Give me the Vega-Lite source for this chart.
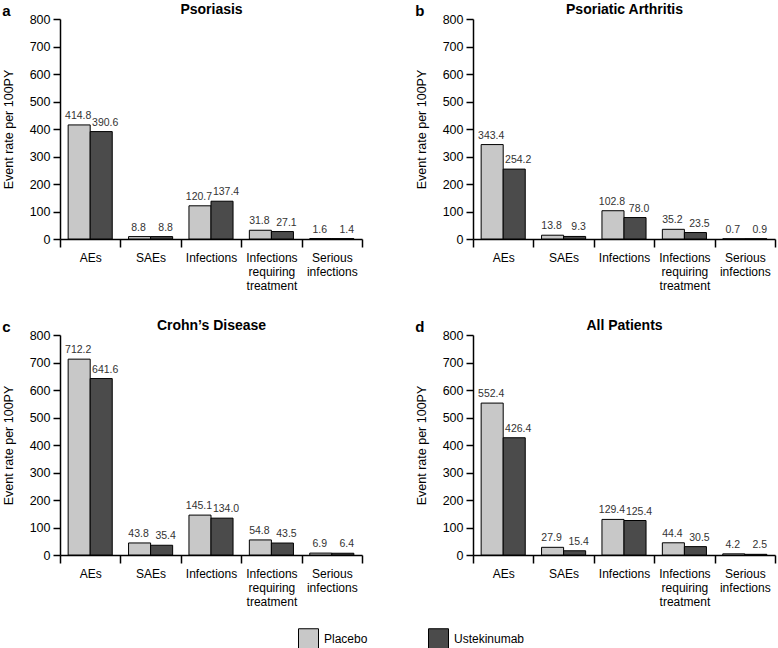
{
  "$schema": "https://vega.github.io/schema/vega-lite/v6.json",
  "padding": {"left": 2, "top": 2, "right": 2, "bottom": 0},
  "config": {
    "font": "Liberation Sans",
    "view": {"stroke": null},
    "axis": {"domainColor": "black", "tickColor": "black", "labelColor": "black", "titleColor": "black", "domainWidth": 1.5, "tickWidth": 1.5, "grid": false},
    "legend": {"symbolType": "square", "symbolSize": 400, "symbolStrokeColor": "black", "symbolStrokeWidth": 1, "labelFontSize": 12, "labelColor": "black", "columnPadding": 58, "labelOffset": 5, "title": null}
  },
  "data": {"values": [
    {"panel": "a", "cat": "AEs", "trt": "Placebo", "v": 414.8},
    {"panel": "a", "cat": "AEs", "trt": "Ustekinumab", "v": 390.6},
    {"panel": "a", "cat": "SAEs", "trt": "Placebo", "v": 8.8},
    {"panel": "a", "cat": "SAEs", "trt": "Ustekinumab", "v": 8.8},
    {"panel": "a", "cat": "Infections", "trt": "Placebo", "v": 120.7},
    {"panel": "a", "cat": "Infections", "trt": "Ustekinumab", "v": 137.4},
    {"panel": "a", "cat": "Infections requiring treatment", "trt": "Placebo", "v": 31.8},
    {"panel": "a", "cat": "Infections requiring treatment", "trt": "Ustekinumab", "v": 27.1},
    {"panel": "a", "cat": "Serious infections", "trt": "Placebo", "v": 1.6},
    {"panel": "a", "cat": "Serious infections", "trt": "Ustekinumab", "v": 1.4},
    {"panel": "b", "cat": "AEs", "trt": "Placebo", "v": 343.4},
    {"panel": "b", "cat": "AEs", "trt": "Ustekinumab", "v": 254.2},
    {"panel": "b", "cat": "SAEs", "trt": "Placebo", "v": 13.8},
    {"panel": "b", "cat": "SAEs", "trt": "Ustekinumab", "v": 9.3},
    {"panel": "b", "cat": "Infections", "trt": "Placebo", "v": 102.8},
    {"panel": "b", "cat": "Infections", "trt": "Ustekinumab", "v": 78.0},
    {"panel": "b", "cat": "Infections requiring treatment", "trt": "Placebo", "v": 35.2},
    {"panel": "b", "cat": "Infections requiring treatment", "trt": "Ustekinumab", "v": 23.5},
    {"panel": "b", "cat": "Serious infections", "trt": "Placebo", "v": 0.7},
    {"panel": "b", "cat": "Serious infections", "trt": "Ustekinumab", "v": 0.9},
    {"panel": "c", "cat": "AEs", "trt": "Placebo", "v": 712.2},
    {"panel": "c", "cat": "AEs", "trt": "Ustekinumab", "v": 641.6},
    {"panel": "c", "cat": "SAEs", "trt": "Placebo", "v": 43.8},
    {"panel": "c", "cat": "SAEs", "trt": "Ustekinumab", "v": 35.4},
    {"panel": "c", "cat": "Infections", "trt": "Placebo", "v": 145.1},
    {"panel": "c", "cat": "Infections", "trt": "Ustekinumab", "v": 134.0},
    {"panel": "c", "cat": "Infections requiring treatment", "trt": "Placebo", "v": 54.8},
    {"panel": "c", "cat": "Infections requiring treatment", "trt": "Ustekinumab", "v": 43.5},
    {"panel": "c", "cat": "Serious infections", "trt": "Placebo", "v": 6.9},
    {"panel": "c", "cat": "Serious infections", "trt": "Ustekinumab", "v": 6.4},
    {"panel": "d", "cat": "AEs", "trt": "Placebo", "v": 552.4},
    {"panel": "d", "cat": "AEs", "trt": "Ustekinumab", "v": 426.4},
    {"panel": "d", "cat": "SAEs", "trt": "Placebo", "v": 27.9},
    {"panel": "d", "cat": "SAEs", "trt": "Ustekinumab", "v": 15.4},
    {"panel": "d", "cat": "Infections", "trt": "Placebo", "v": 129.4},
    {"panel": "d", "cat": "Infections", "trt": "Ustekinumab", "v": 125.4},
    {"panel": "d", "cat": "Infections requiring treatment", "trt": "Placebo", "v": 44.4},
    {"panel": "d", "cat": "Infections requiring treatment", "trt": "Ustekinumab", "v": 30.5},
    {"panel": "d", "cat": "Serious infections", "trt": "Placebo", "v": 4.2},
    {"panel": "d", "cat": "Serious infections", "trt": "Ustekinumab", "v": 2.5}
  ]},
  "columns": 2,
  "spacing": {"column": 52, "row": 27},
  "concat": [
    {
      "title": {"text": "a", "anchor": "start", "frame": "bounds", "fontSize": 15, "fontWeight": "bold", "offset": -17},
      "width": 302, "height": 220,
      "transform": [{"filter": "datum.panel == 'a'"}],
      "encoding": {
        "xOffset": {"field": "trt", "type": "nominal", "sort": ["Placebo", "Ustekinumab"], "scale": {"paddingOuter": 0.37, "paddingInner": 0}},
        "y": {"field": "v", "type": "quantitative", "scale": {"domain": [0, 800], "nice": false}, "axis": {"title": "Event rate per 100PY", "titleFontSize": 12.5, "titleFontWeight": "normal", "titlePadding": 14, "values": [0, 100, 200, 300, 400, 500, 600, 700, 800], "labelOverlap": false, "labelFontSize": 12.5, "tickSize": 7, "labelPadding": 3}}
      },
      "layer": [
        {"mark": {"type": "bar", "stroke": "black", "strokeWidth": 1},
         "encoding": {
           "x": {"field": "cat", "type": "nominal", "sort": ["AEs", "SAEs", "Infections", "Infections requiring treatment", "Serious infections"], "scale": {"paddingInner": 0, "paddingOuter": 0}, "axis": {"title": null, "labelAngle": 0, "labelExpr": "split(datum.label, ' ')", "labelFontSize": 12, "labelLineHeight": 14, "tickBand": "extent", "tickSize": 8, "labelPadding": 5}},
           "color": {"field": "trt", "type": "nominal", "scale": {"domain": ["Placebo", "Ustekinumab"], "range": ["#c8c8c8", "#4b4b4b"]}, "legend": {"orient": "none", "direction": "horizontal", "legendX": 238, "legendY": 609}}
         }},
        {"mark": {"type": "text", "fontSize": 10.5, "color": "#333", "baseline": "bottom", "dy": -4, "dx": {"expr": "datum.trt === 'Ustekinumab' ? 4 : -1"}},
         "encoding": {
           "x": {"field": "cat", "type": "nominal", "sort": ["AEs", "SAEs", "Infections", "Infections requiring treatment", "Serious infections"], "axis": {"orient": "top", "title": "Psoriasis", "labels": false, "ticks": false, "domain": false, "titleFontSize": 14, "titleFontWeight": "bold", "titlePadding": 3}},
           "text": {"field": "v", "type": "quantitative", "format": ".1f"}
         }}
      ],
      "resolve": {"axis": {"x": "independent"}}
    },
    {
      "title": {"text": "b", "anchor": "start", "frame": "bounds", "fontSize": 15, "fontWeight": "bold", "offset": -17},
      "width": 302, "height": 220,
      "transform": [{"filter": "datum.panel == 'b'"}],
      "encoding": {
        "xOffset": {"field": "trt", "type": "nominal", "sort": ["Placebo", "Ustekinumab"], "scale": {"paddingOuter": 0.37, "paddingInner": 0}},
        "y": {"field": "v", "type": "quantitative", "scale": {"domain": [0, 800], "nice": false}, "axis": {"title": "Event rate per 100PY", "titleFontSize": 12.5, "titleFontWeight": "normal", "titlePadding": 14, "values": [0, 100, 200, 300, 400, 500, 600, 700, 800], "labelOverlap": false, "labelFontSize": 12.5, "tickSize": 7, "labelPadding": 3}}
      },
      "layer": [
        {"mark": {"type": "bar", "stroke": "black", "strokeWidth": 1},
         "encoding": {
           "x": {"field": "cat", "type": "nominal", "sort": ["AEs", "SAEs", "Infections", "Infections requiring treatment", "Serious infections"], "scale": {"paddingInner": 0, "paddingOuter": 0}, "axis": {"title": null, "labelAngle": 0, "labelExpr": "split(datum.label, ' ')", "labelFontSize": 12, "labelLineHeight": 14, "tickBand": "extent", "tickSize": 8, "labelPadding": 5}},
           "color": {"field": "trt", "type": "nominal", "scale": {"domain": ["Placebo", "Ustekinumab"], "range": ["#c8c8c8", "#4b4b4b"]}, "legend": {"orient": "none", "direction": "horizontal", "legendX": 238, "legendY": 609}}
         }},
        {"mark": {"type": "text", "fontSize": 10.5, "color": "#333", "baseline": "bottom", "dy": -4, "dx": {"expr": "datum.trt === 'Ustekinumab' ? 4 : -1"}},
         "encoding": {
           "x": {"field": "cat", "type": "nominal", "sort": ["AEs", "SAEs", "Infections", "Infections requiring treatment", "Serious infections"], "axis": {"orient": "top", "title": "Psoriatic Arthritis", "labels": false, "ticks": false, "domain": false, "titleFontSize": 14, "titleFontWeight": "bold", "titlePadding": 3}},
           "text": {"field": "v", "type": "quantitative", "format": ".1f"}
         }}
      ],
      "resolve": {"axis": {"x": "independent"}}
    },
    {
      "title": {"text": "c", "anchor": "start", "frame": "bounds", "fontSize": 15, "fontWeight": "bold", "offset": -17},
      "width": 302, "height": 220,
      "transform": [{"filter": "datum.panel == 'c'"}],
      "encoding": {
        "xOffset": {"field": "trt", "type": "nominal", "sort": ["Placebo", "Ustekinumab"], "scale": {"paddingOuter": 0.37, "paddingInner": 0}},
        "y": {"field": "v", "type": "quantitative", "scale": {"domain": [0, 800], "nice": false}, "axis": {"title": "Event rate per 100PY", "titleFontSize": 12.5, "titleFontWeight": "normal", "titlePadding": 14, "values": [0, 100, 200, 300, 400, 500, 600, 700, 800], "labelOverlap": false, "labelFontSize": 12.5, "tickSize": 7, "labelPadding": 3}}
      },
      "layer": [
        {"mark": {"type": "bar", "stroke": "black", "strokeWidth": 1},
         "encoding": {
           "x": {"field": "cat", "type": "nominal", "sort": ["AEs", "SAEs", "Infections", "Infections requiring treatment", "Serious infections"], "scale": {"paddingInner": 0, "paddingOuter": 0}, "axis": {"title": null, "labelAngle": 0, "labelExpr": "split(datum.label, ' ')", "labelFontSize": 12, "labelLineHeight": 14, "tickBand": "extent", "tickSize": 8, "labelPadding": 5}},
           "color": {"field": "trt", "type": "nominal", "scale": {"domain": ["Placebo", "Ustekinumab"], "range": ["#c8c8c8", "#4b4b4b"]}, "legend": {"orient": "none", "direction": "horizontal", "legendX": 238, "legendY": 609}}
         }},
        {"mark": {"type": "text", "fontSize": 10.5, "color": "#333", "baseline": "bottom", "dy": -4, "dx": {"expr": "datum.trt === 'Ustekinumab' ? 4 : -1"}},
         "encoding": {
           "x": {"field": "cat", "type": "nominal", "sort": ["AEs", "SAEs", "Infections", "Infections requiring treatment", "Serious infections"], "axis": {"orient": "top", "title": "Crohn’s Disease", "labels": false, "ticks": false, "domain": false, "titleFontSize": 14, "titleFontWeight": "bold", "titlePadding": 3}},
           "text": {"field": "v", "type": "quantitative", "format": ".1f"}
         }}
      ],
      "resolve": {"axis": {"x": "independent"}}
    },
    {
      "title": {"text": "d", "anchor": "start", "frame": "bounds", "fontSize": 15, "fontWeight": "bold", "offset": -17},
      "width": 302, "height": 220,
      "transform": [{"filter": "datum.panel == 'd'"}],
      "encoding": {
        "xOffset": {"field": "trt", "type": "nominal", "sort": ["Placebo", "Ustekinumab"], "scale": {"paddingOuter": 0.37, "paddingInner": 0}},
        "y": {"field": "v", "type": "quantitative", "scale": {"domain": [0, 800], "nice": false}, "axis": {"title": "Event rate per 100PY", "titleFontSize": 12.5, "titleFontWeight": "normal", "titlePadding": 14, "values": [0, 100, 200, 300, 400, 500, 600, 700, 800], "labelOverlap": false, "labelFontSize": 12.5, "tickSize": 7, "labelPadding": 3}}
      },
      "layer": [
        {"mark": {"type": "bar", "stroke": "black", "strokeWidth": 1},
         "encoding": {
           "x": {"field": "cat", "type": "nominal", "sort": ["AEs", "SAEs", "Infections", "Infections requiring treatment", "Serious infections"], "scale": {"paddingInner": 0, "paddingOuter": 0}, "axis": {"title": null, "labelAngle": 0, "labelExpr": "split(datum.label, ' ')", "labelFontSize": 12, "labelLineHeight": 14, "tickBand": "extent", "tickSize": 8, "labelPadding": 5}},
           "color": {"field": "trt", "type": "nominal", "scale": {"domain": ["Placebo", "Ustekinumab"], "range": ["#c8c8c8", "#4b4b4b"]}, "legend": {"orient": "none", "direction": "horizontal", "legendX": 238, "legendY": 609}}
         }},
        {"mark": {"type": "text", "fontSize": 10.5, "color": "#333", "baseline": "bottom", "dy": -4, "dx": {"expr": "datum.trt === 'Ustekinumab' ? 4 : -1"}},
         "encoding": {
           "x": {"field": "cat", "type": "nominal", "sort": ["AEs", "SAEs", "Infections", "Infections requiring treatment", "Serious infections"], "axis": {"orient": "top", "title": "All Patients", "labels": false, "ticks": false, "domain": false, "titleFontSize": 14, "titleFontWeight": "bold", "titlePadding": 3}},
           "text": {"field": "v", "type": "quantitative", "format": ".1f"}
         }}
      ],
      "resolve": {"axis": {"x": "independent"}}
    }
  ],
  "resolve": {"scale": {"color": "shared"}, "legend": {"color": "shared"}}
}
